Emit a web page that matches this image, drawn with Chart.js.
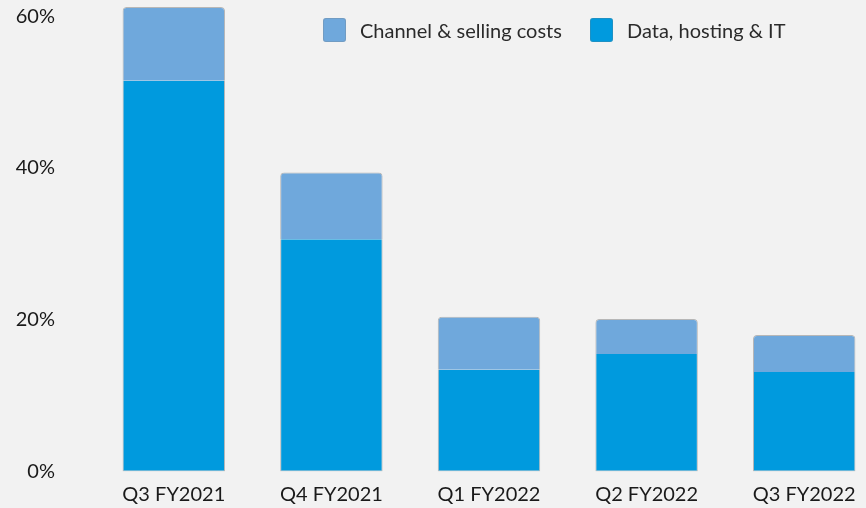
<!DOCTYPE html>
<html>
<head>
<meta charset="utf-8">
<script src="https://cdn.jsdelivr.net/npm/chart.js@4"></script>
<style>
  html, body { margin: 0; padding: 0; background: #f2f2f2; overflow: hidden; }
  #wrap { position: relative; width: 890px; height: 508px; }
  .leg { position: absolute; top: 18px; display: flex; align-items: center; font: 20px Lato, sans-serif; color: #2b2b2b; }
  .leg span.box { width: 23px; height: 24px; border-radius: 3px; margin-right: 14px; box-shadow: 0 0 0 1px rgba(120,120,120,0.25) inset; }
</style>
</head>
<body>
<div id="wrap">
  <canvas id="chart" width="890" height="508"></canvas>
  <div id="legend"></div>
</div>
<script>
const categories = ['Q3 FY2021', 'Q4 FY2021', 'Q1 FY2022', 'Q2 FY2022', 'Q3 FY2022'];
const dataHosting = [51.5, 30.6, 13.4, 15.5, 13.1];
const channelSelling = [9.7, 8.8, 7.0, 4.6, 4.9];
const tickStep = 20;

const colChannel = '#6fa8dc';
const colData = '#009ade';
const edge = 'rgba(110,110,110,0.45)';

const datasets = [
  {
    label: 'Data, hosting & IT',
    data: dataHosting,
    backgroundColor: colData,
    borderColor: edge,
    borderWidth: { left: 1, right: 1, bottom: 1, top: 0 },
    borderSkipped: false,
    borderRadius: 0,
    stack: 's'
  },
  {
    label: 'Channel & selling costs',
    data: channelSelling,
    backgroundColor: colChannel,
    borderColor: edge,
    borderWidth: { left: 1, right: 1, top: 1, bottom: 0 },
    borderSkipped: false,
    borderRadius: { topLeft: 4, topRight: 4 },
    stack: 's'
  }
];

new Chart(document.getElementById('chart').getContext('2d'), {
  type: 'bar',
  data: { labels: categories, datasets: datasets },
  options: {
    responsive: false,
    animation: false,
    layout: { padding: { left: 16, right: 7, top: 1, bottom: 1 } },
    datasets: { bar: { categoryPercentage: 1, barPercentage: 0.65 } },
    plugins: { legend: { display: false }, tooltip: { enabled: false } },
    scales: {
      x: {
        stacked: true,
        grid: { display: false, drawTicks: false },
        border: { display: false },
        afterFit(scale) { scale.paddingLeft = 0; scale.paddingRight = 0; scale.height = 35.5; },
        ticks: { color: '#1a1a1a', padding: 11, maxRotation: 0, font: { family: 'Lato', size: 20 } }
      },
      y: {
        stacked: true,
        min: 0,
        max: 62,
        grid: { display: false, drawTicks: false },
        border: { display: false },
        afterFit(scale) { scale.width = 79; scale.paddingTop = 0; scale.paddingBottom = 0; },
        ticks: {
          stepSize: tickStep,
          includeBounds: false,
          padding: 40,
          color: '#1a1a1a',
          font: { family: 'Lato', size: 20 },
          callback: v => v + '%'
        }
      }
    }
  }
});

// legend drawn in html, order as in the picture
const legendItems = [
  { text: 'Channel & selling costs', color: colChannel, left: 323 },
  { text: 'Data, hosting & IT', color: colData, left: 590 }
];
const legend = document.getElementById('legend');
legendItems.forEach(it => {
  const d = document.createElement('div');
  d.className = 'leg';
  d.style.left = it.left + 'px';
  d.innerHTML = '<span class="box" style="background:' + it.color + '"></span><span>' + it.text + '</span>';
  legend.appendChild(d);
});
</script>
</body>
</html>
